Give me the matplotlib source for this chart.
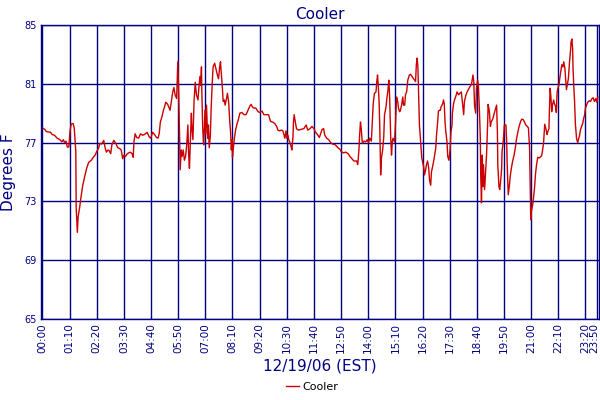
import matplotlib
matplotlib.use("Agg")
import matplotlib.pyplot as plt
import matplotlib.transforms as mtransforms

# --- データ (分, 温度F) ---
minutes = [
    0, 6, 10, 21, 25, 31, 38, 45, 50, 54, 57, 61, 64, 68, 71, 74, 79, 82, 86, 87,
    90, 92, 96, 100, 104, 109, 114, 119, 126, 131, 136, 140, 145, 148, 152, 155, 158, 162, 165, 169,
    172, 176, 179, 184, 189, 194, 199,
    203, 207, 210, 214, 219, 226, 231, 234, 236, 239, 243, 248, 253, 258, 263, 270, 275, 279, 284,
    289, 294, 298, 301, 304, 308, 312, 315, 318, 323, 329, 332, 336, 339, 342, 346, 348, 349, 351,
    354, 355, 358, 360, 363, 366, 369, 372, 375, 377, 379, 382, 384, 385, 388, 391, 394, 397,
    401, 403, 406, 408, 410, 411, 413, 415, 416, 419, 421, 423, 426, 428, 430, 433, 435, 438, 440,
    444, 447, 451, 454, 457, 459, 461, 464, 466, 469, 471, 475, 477, 480, 483, 485, 487, 489, 490,
    492, 495, 498, 501, 505, 509, 514, 520, 525, 530, 535, 538, 542, 545, 550, 556, 561, 566, 571,
    576, 583, 588, 593, 599, 604, 607,
    611, 616, 620, 623, 625, 628, 630, 633, 635, 638, 641, 643, 646, 647, 649, 652, 655, 660, 667,
    674, 680, 684, 690, 695, 700, 703, 709, 714, 716, 721, 725, 728, 733, 738, 743, 748, 755, 762,
    767, 770, 776, 782, 788, 793, 798, 803, 810, 813, 816, 818,
    820, 822, 824, 825, 829, 834, 837, 841, 844, 848, 850, 853, 856, 860, 862, 864, 866, 868, 870,
    872, 874, 877, 880, 882, 886, 888, 891, 893, 895, 897, 898, 900, 902, 904, 908, 910, 913, 916,
    918, 921, 923, 926, 929, 931, 934, 936, 939, 942, 946, 949, 953, 956, 960, 962, 964, 966, 968,
    970, 972, 975, 978, 980, 983, 985, 988, 990, 993, 996, 998, 1001, 1003, 1007, 1010, 1014, 1016,
    1019, 1021, 1024,
    1026, 1028, 1032, 1034, 1036, 1038, 1040, 1043, 1045, 1048, 1051, 1053, 1056, 1057, 1060, 1063,
    1067, 1069, 1073, 1076, 1080, 1083, 1086, 1088, 1092, 1095, 1099, 1102, 1106, 1108, 1110, 1112,
    1114, 1117, 1119, 1122, 1124, 1127, 1129, 1130, 1132, 1134, 1136, 1137, 1140, 1142, 1145, 1148,
    1149, 1152, 1155, 1157, 1161, 1164, 1167, 1171, 1173, 1174, 1177, 1179, 1182, 1184, 1185, 1188,
    1190, 1191, 1195, 1197, 1198, 1201, 1204, 1206, 1209, 1212, 1216, 1219, 1222, 1226, 1229,
    1233, 1236, 1240, 1243, 1246, 1250, 1253, 1256, 1258, 1259, 1261, 1264, 1266, 1269, 1271, 1274,
    1277, 1280, 1283, 1287, 1289, 1292, 1294, 1295, 1298, 1301, 1303, 1306, 1307, 1309, 1311, 1313,
    1315, 1318, 1320, 1323, 1325, 1327, 1329, 1332, 1334, 1337, 1339, 1342, 1344, 1347, 1350, 1351,
    1354, 1356, 1359, 1362, 1363, 1365, 1367, 1368, 1370, 1372, 1374, 1377, 1380, 1382, 1385, 1387,
    1390, 1393, 1395, 1398, 1400, 1403, 1406, 1410, 1413, 1417, 1420, 1423, 1427, 1429, 1432,
]
temps = [
    78.0, 77.9, 77.75, 77.7, 77.55, 77.5, 77.3, 77.2, 77.05, 77.2, 77.0, 77.1, 76.7, 76.7, 77.75, 78.25, 78.3, 78.0, 76.4, 72.6,
    70.9, 71.95, 72.6, 73.4, 74.1, 74.7, 75.25, 75.65, 75.8, 76.0, 76.15, 76.4, 76.65, 76.95, 76.9, 77.0, 77.15, 76.6, 76.35, 76.5,
    76.45, 76.25, 76.85, 77.15, 76.95, 76.65, 76.6,
    76.5, 75.9, 76.15, 76.05, 76.25, 76.35, 76.25, 76.0, 77.05, 77.6, 77.35, 77.3, 77.6, 77.5, 77.55, 77.7, 77.4, 77.3, 77.7,
    77.55, 77.35, 77.3, 77.6, 78.4, 78.75, 79.2, 79.45, 79.75, 79.6, 79.2, 79.75, 80.45, 80.75, 80.25, 80.0, 81.8, 82.5, 80.7,
    76.95, 75.15, 76.5, 76.05, 76.5, 75.8, 76.05, 76.85, 78.2, 76.15, 75.25, 77.5, 79.0, 78.2, 77.2, 79.9, 81.1, 80.25,
    79.9, 80.6, 81.5, 80.9, 82.15, 80.45, 78.2, 76.95, 76.85, 79.2, 77.6, 79.55, 77.3, 78.2, 76.65, 77.5, 79.35, 81.15, 82.15,
    82.4, 82.05, 81.6, 81.35, 82.15, 82.5, 81.8, 80.7, 79.8, 79.9, 79.55, 80.05, 80.35, 79.8, 78.4, 77.75, 76.5, 77.2, 76.0,
    76.6, 77.3, 77.85, 78.2, 78.55, 79.0, 79.05, 78.9, 78.9, 79.2, 79.5, 79.6, 79.4, 79.35, 79.35, 79.1, 79.05, 79.15, 78.9,
    78.9, 78.9, 78.45, 78.4, 78.3, 78.1, 77.85,
    77.8, 77.85, 77.8, 77.5, 77.3, 77.8, 77.3, 77.5, 77.2, 77.0, 76.75, 76.5, 77.4, 78.3, 78.9, 78.4, 77.95, 77.85, 77.9,
    77.95, 78.2, 77.85, 77.95, 78.1, 77.95, 77.75, 77.55, 77.35, 77.5, 77.9, 77.95, 77.5, 77.3, 77.2, 77.0, 76.9, 76.85, 76.65,
    76.55, 76.4, 76.3, 76.35, 76.25, 76.05, 75.9, 75.75, 75.75, 75.5, 76.5, 77.6,
    78.4, 77.95, 77.2, 76.95, 77.1, 77.05, 77.2, 77.0, 77.3, 77.1, 78.2, 79.7, 80.35, 80.45, 81.15, 81.6, 80.8, 79.8, 77.75,
    74.8, 75.95, 76.45, 77.4, 78.9, 79.45, 80.0, 80.6, 81.25, 80.25, 78.2, 77.3, 76.15, 77.05, 77.3, 77.05, 78.1, 80.1, 79.8,
    79.35, 79.1, 79.2, 79.55, 80.1, 79.55, 79.55, 80.25, 80.45, 81.25, 81.6, 81.65, 81.5, 81.4, 81.25, 81.15, 82.3, 82.75, 82.15,
    80.25, 78.2, 77.05, 75.95, 75.7, 75.35, 74.8, 75.15, 75.5, 75.75, 75.25, 74.45, 74.1, 75.0, 75.5, 75.95, 76.6, 77.5,
    78.4, 79.15, 79.2,
    79.2, 79.45, 79.65, 79.9, 79.65, 78.4, 77.75, 77.05, 76.05, 75.8, 76.5, 77.65, 78.2, 79.0, 79.65, 79.95,
    80.25, 80.45, 80.25, 80.35, 80.45, 79.65, 78.9, 79.8, 80.25, 80.45, 80.65, 80.8, 80.95, 81.25, 81.6, 81.2,
    79.55, 79.0, 80.7, 81.25, 80.9, 78.9, 77.3, 74.8, 72.9, 76.15, 74.0, 75.5, 73.8, 74.7, 76.15, 78.4,
    79.6, 79.2, 78.1, 78.4, 78.6, 78.9, 79.2, 79.55, 77.75, 75.5, 74.0, 73.8, 74.55, 75.25, 76.4, 77.05,
    77.75, 78.2, 78.2, 77.05, 75.7, 73.45, 74.1, 74.7, 75.25, 75.7, 76.15, 76.6, 77.2, 77.75, 78.1,
    78.45, 78.6, 78.55, 78.4, 78.2, 78.1, 78.0, 76.6, 73.45, 71.75, 72.4, 72.75, 73.2, 74.0, 74.8, 75.5,
    76.0, 75.95, 76.0, 76.1, 76.4, 76.95, 77.75, 78.25, 77.95, 77.55, 77.75, 77.95, 79.15, 80.7, 80.1, 79.1,
    79.55, 79.9, 79.65, 79.45, 79.05, 80.45, 80.7, 80.95, 81.4, 81.95, 82.3, 82.15, 82.5, 82.05, 80.9, 80.6,
    81.05, 81.35, 82.5, 83.4, 83.85, 84.05, 83.4, 82.05, 80.8, 79.8, 78.3, 77.3, 77.0, 77.2, 77.5, 77.85,
    78.1, 78.3, 78.6, 78.9, 79.35, 79.55, 79.75, 79.85, 79.8, 80.0, 80.05, 79.8, 80.0, 79.75, 80.1,
]

tick_minutes = list(range(0, 1401, 70)) + [1430]
tick_labels = ['%02d:%02d' % (m // 60, m % 60) for m in tick_minutes]
y_ticks = [65, 69, 73, 77, 81, 85]

navy = '#000080'
red = '#CC0000'

fig = plt.figure(figsize=(6, 4), dpi=100)
ax = fig.add_axes([0.0675, 0.2025, 0.9315, 0.735])

ax.plot(minutes, temps, '-', color=red, linewidth=1.0, label='Cooler')

ax.set_xlim(-5, 1436)
ax.set_ylim(65, 85)
ax.set_xticks(tick_minutes)
ax.set_xticklabels(tick_labels, rotation=90, fontsize=7.5, color=navy)
ax.set_yticks(y_ticks)
ax.set_yticklabels([str(v) for v in y_ticks], fontsize=7, color=navy)
ax.tick_params(length=0, pad=3)
ax.grid(True, color=navy, linewidth=1.0)
ax.set_axisbelow(True)
for s in ax.spines.values():
    s.set_color(navy)
    s.set_linewidth(1.0)

# 右端のラベルが切れないよう少し左へずらす
last = ax.get_xticklabels()[-1]
last.set_transform(last.get_transform() +
                   mtransforms.ScaledTranslation(-3 / 100, 0, fig.dpi_scale_trans))

ax.set_title('Cooler', color=navy, fontsize=11, pad=4)
ax.set_ylabel('Degrees F', color=navy, fontsize=11, labelpad=6)
ax.set_xlabel('12/19/06 (EST)', color=navy, fontsize=11, labelpad=4)

fig.legend(loc='lower center', bbox_to_anchor=(0.52, -0.005), frameon=False,
           fontsize=8, handlelength=1.2, handletextpad=0.3)

fig.savefig('out.png', dpi=100)
